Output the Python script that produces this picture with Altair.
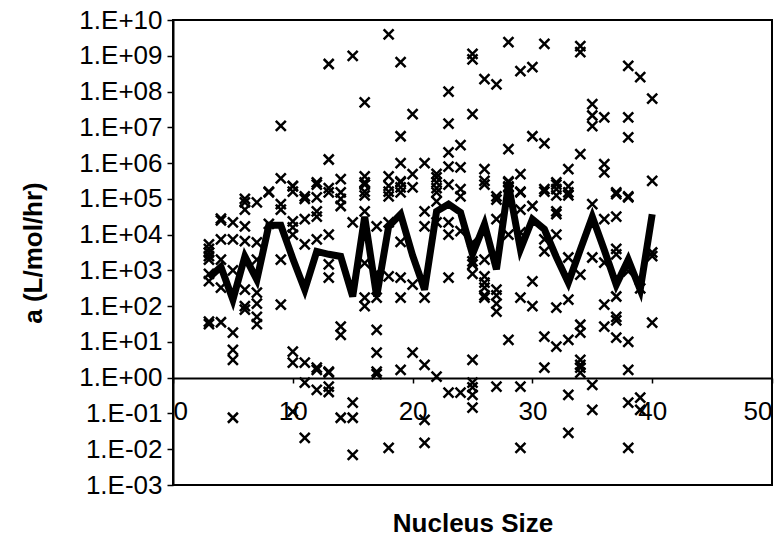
import altair as alt
import pandas as pd

# Scatter values, stored as log10(a) for each nucleus size
n03 = [3.73, 3.6, 3.5, 3.4, 3.3, 2.9, 2.7, 1.57, 1.5]
n04 = [4.45, 4.4, 3.87, 3.3, 2.52, 1.55]
n05 = [4.34, 3.87, 3.0, 1.26, 0.78, 0.5, -1.12]
n06 = [5.0, 4.9, 4.7, 4.23, 3.82, 2.46, 2.0, 1.9]
n07 = [4.9, 3.78, 3.3, 2.38, 2.07, 1.7, 1.5]
n08 = [5.2, 5.18, 4.3]
n09 = [7.04, 5.57, 4.85, 4.7, 3.3, 2.04]
n10 = [5.36, 5.35, 5.2, 4.37, 4.2, 4.0, 0.73, 0.42, -0.95]
n11 = [5.07, 5.0, 4.43, 3.73, 0.42, -0.14, -1.68]
n12 = [5.46, 5.4, 5.04, 4.65, 4.5, 3.87, 0.28, 0.22, -0.34]
n13 = [8.77, 6.1, 5.3, 5.18, 4.0, 3.17, 2.8, 0.17, 0.14, -0.25, -0.4]
n14 = [5.55, 5.18, 5.0, 4.8, 1.43, 1.2, -1.12]
n15 = [9.0, 4.34, -0.7, -1.12, -2.16]
n16 = [7.7, 5.63, 5.46, 5.4, 5.2, 5.1, 4.65, 3.2, 2.24, 2.0]
n17 = [4.23, 2.94, 2.24, 1.34, 0.7, 0.17, 0.1]
n18 = [9.6, 5.63, 5.36, 5.2, 5.07, 4.34, 2.83, -1.96]
n19 = [8.82, 6.75, 6.0, 5.49, 5.46, 5.32, 5.18, 3.8, 2.8, 2.24, 0.22]
n20 = [7.37, 5.69, 5.32, 2.6, 0.7]
n21 = [6.0, 4.65, 4.23, 2.24, 0.36, -1.18, -1.82]
n22 = [5.7, 5.6, 5.46, 5.3, 5.18, 4.93, 4.34, 0.03]
n23 = [8.0, 7.1, 6.3, 5.9, 5.4, 4.34, 4.0, 2.8, -0.42]
n24 = [6.5, 5.88, 5.27, 5.07, 4.1, -0.42]
n25 = [9.05, 8.9, 7.37, 3.78, 3.25, 3.17, 2.9, 0.5, -0.14, -0.27, -0.48, -0.84]
n26 = [8.35, 5.83, 5.5, 5.4, 3.3, 2.83, 2.66, 2.52, 2.3, 2.24]
n27 = [8.2, 5.07, 4.98, 4.43, 2.46, 2.3, 2.07, 1.85, -0.25]
n28 = [9.38, 6.39, 5.49, 5.46, 5.35, 5.32, 4.0, 1.06]
n29 = [8.57, 5.69, 5.2, 5.18, 4.7, 4.06, 2.24, -0.25, -1.96]
n30 = [8.68, 6.75, 4.8, 2.69, 2.0]
n31 = [9.33, 6.55, 5.27, 5.2, 3.87, 3.53, 1.15, 0.28]
n32 = [5.46, 5.4, 5.27, 5.1, 4.65, 4.57, 4.0, 1.96, 0.87]
n33 = [5.83, 5.35, 5.18, 5.1, 3.36, 2.18, 1.06, -0.48, -1.54]
n34 = [9.27, 9.1, 6.25, 2.88, 1.48, 1.26, 0.5, 0.36, 0.28, 0.14]
n35 = [7.65, 7.33, 7.03, 4.85, 3.36, -0.2, -0.9]
n36 = [7.28, 5.97, 5.74, 4.43, 3.22, 2.04, 1.43]
n37 = [5.18, 5.13, 4.5, 3.6, 3.45, 2.27, 1.7, 1.6, 1.12]
n38 = [8.72, 7.28, 6.72, 5.07, 5.04, 2.97, 1.0, 0.22, -0.7, -1.96]
n39 = [8.4, 2.5, -0.56, -0.9]
n40 = [7.8, 5.5, 3.5, 3.4, 1.54]

scatter_cols = [n03, n04, n05, n06, n07, n08, n09, n10, n11, n12, n13, n14, n15,
                n16, n17, n18, n19, n20, n21, n22, n23, n24, n25, n26, n27, n28,
                n29, n30, n31, n32, n33, n34, n35, n36, n37, n38, n39, n40]

# Thick line values (log10)
line_sizes = list(range(3, 41))
line_exp = [2.8, 3.1, 2.18, 3.39, 2.74, 4.26, 4.26, 3.33, 2.46, 3.53, 3.45, 3.39,
            2.27, 4.5, 2.27, 4.23, 4.57, 3.42, 2.46, 4.65, 4.85, 4.62, 3.45, 4.29,
            3.03, 5.4, 3.59, 4.43, 4.15, 3.37, 2.66, 3.58, 4.5, 3.57, 2.6, 3.3,
            2.46, 4.57]

y_ticks = [1e-3, 1e-2, 1e-1, 1e0, 1e1, 1e2, 1e3, 1e4, 1e5, 1e6, 1e7, 1e8, 1e9, 1e10]

rows = []
for size, col in zip(line_sizes, scatter_cols):
    for e in col:
        rows.append({"size": size, "a": 10 ** e})
scatter_df = pd.DataFrame(rows)
line_df = pd.DataFrame({"size": line_sizes, "a": [10 ** e for e in line_exp]})

xscale = alt.Scale(domain=[0, 50], nice=False, zero=False)
yscale = alt.Scale(type="log", domain=[1e-3, 1e10], nice=False)

label_expr = ("'1.E' + (datum.value >= 1 ? '+' : '-') + "
              "(abs(round(log(datum.value)/LN10)) < 10 ? '0' : '') + "
              "abs(round(log(datum.value)/LN10))")

x_enc = alt.X("size:Q", scale=xscale,
              axis=alt.Axis(title="Nucleus Size", values=[0, 10, 20, 30, 40, 50],
                            offset=-107, tickSize=5, labelPadding=15,
                            titlePadding=86, grid=False))
y_enc = alt.Y("a:Q", scale=yscale,
              axis=alt.Axis(title="a (L/mol/hr)", values=y_ticks, labelExpr=label_expr,
                            tickSize=6, labelPadding=5, titlePadding=32, grid=False))

xshape = "M-1,-1L1,1M-1,1L1,-1"

points = alt.Chart(scatter_df).mark_point(
    shape=xshape, size=100, filled=False, color="black", strokeWidth=2.5, opacity=1
).encode(x=x_enc, y=y_enc)

line = alt.Chart(line_df).mark_line(color="black", strokeWidth=7, strokeJoin="miter").encode(
    x=alt.X("size:Q", scale=xscale), y=alt.Y("a:Q", scale=yscale)
)

chart = (points + line).properties(
    width=599, height=465,
    autosize=alt.AutoSizeParams(type="none"),
    padding={"left": 173, "top": 20, "right": 12, "bottom": 54},
    background="white",
).configure_view(stroke="black", strokeWidth=2).configure_axis(
    domainColor="black", domainWidth=2, tickColor="black", tickWidth=1.5,
    labelFont="Liberation Sans", labelFontSize=26, labelColor="black",
    titleFont="Liberation Sans", titleFontSize=26, titleFontWeight="bold", titleColor="black",
)

chart.save("out.html", embed_options={"renderer": "svg", "actions": False})
